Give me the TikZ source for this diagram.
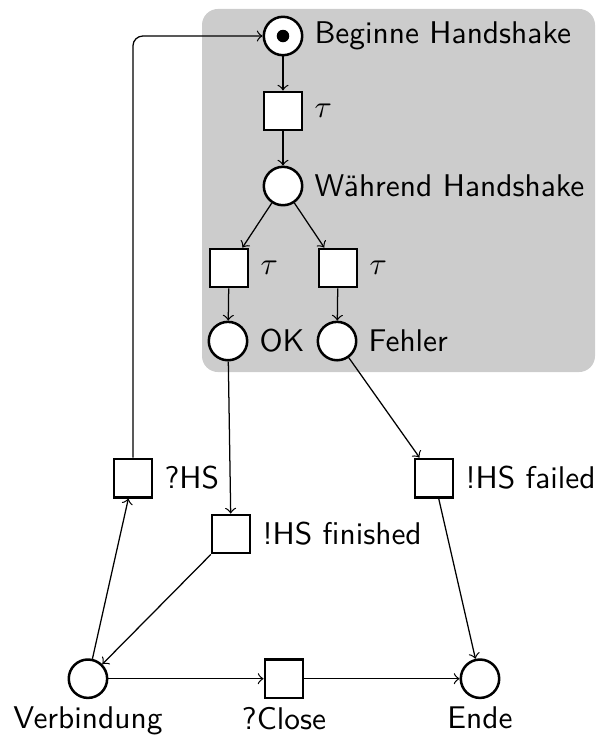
\documentclass[tikz,border=0pt]{standalone}
\usepackage{amssymb, amsmath}
\usetikzlibrary{petri}

\begin{document}
\begin{tikzpicture}[font=\sffamily,
  every place/.style={draw, thick, fill=white, minimum size=4.3mm, inner sep=0pt},
  every transition/.style={draw, thick, fill=white, minimum size=4.3mm, inner sep=0pt},
  every token/.style={fill=black, minimum size=1.4mm, inner sep=0pt}]
\useasboundingbox (0,0) rectangle (6.663,-8.264);

% handshake area
\fill [black!20, rounded corners=1.8mm] (2.262,-0.10) rectangle (6.663,-4.166);

%%%  nodes

% handshake nodes
\node [place, tokens=1, label=right:{Beginne Handshake}] (begin) at (3.169,-0.403) {};
\node [transition, label=right:{$\tau$}] (t1) at (3.169,-1.243) {};
\node [place, label=right:{Während Handshake}] (during) at (3.169,-2.083) {};
\node [transition, label=right:{$\tau$}] (tok) at (2.564,-3.001) {};
\node [transition, label=right:{$\tau$}] (terr) at (3.785,-3.001) {};
\node [place, label=right:{OK}] (ok) at (2.553,-3.819) {};
\node [place, label=right:{Fehler}] (err) at (3.774,-3.819) {};

% connection nodes
\node [transition, label=right:{?HS}] (hs) at (1.489,-5.353) {};
\node [transition, label=right:{!HS failed}] (failed) at (4.860,-5.353) {};
\node [transition, label=right:{!HS finished}] (finished) at (2.587,-5.980) {};
\node [place, label={[label distance=-1pt]below:{Verbindung}}] (conn) at (0.985,-7.600) {};
\node [transition, label={[label distance=-1pt]below:{?Close}}] (close) at (3.180,-7.600) {};
\node [place, label={[label distance=-1pt]below:{Ende}}] (end) at (5.375,-7.600) {};

%%% edges

% handshake
\draw (begin) [->] to (t1);
\draw (t1) [->] to (during);
\draw (during) [->] to (tok);
\draw (during) [->] to (terr);
\draw (tok) [->] to (ok);
\draw (terr) [->] to (err);

% results
\draw (ok) [->] to (finished);
\draw (err) [->] to (failed);
\draw (finished) [->] to (conn);
\draw (failed) [->] to (end);

% connection
\draw (conn) [->] to (hs);
\draw (hs) [->, rounded corners=1.1mm] |- (begin);
\draw (conn) [->] to (close);
\draw (close) [->] to (end);
\end{tikzpicture}
\end{document}
